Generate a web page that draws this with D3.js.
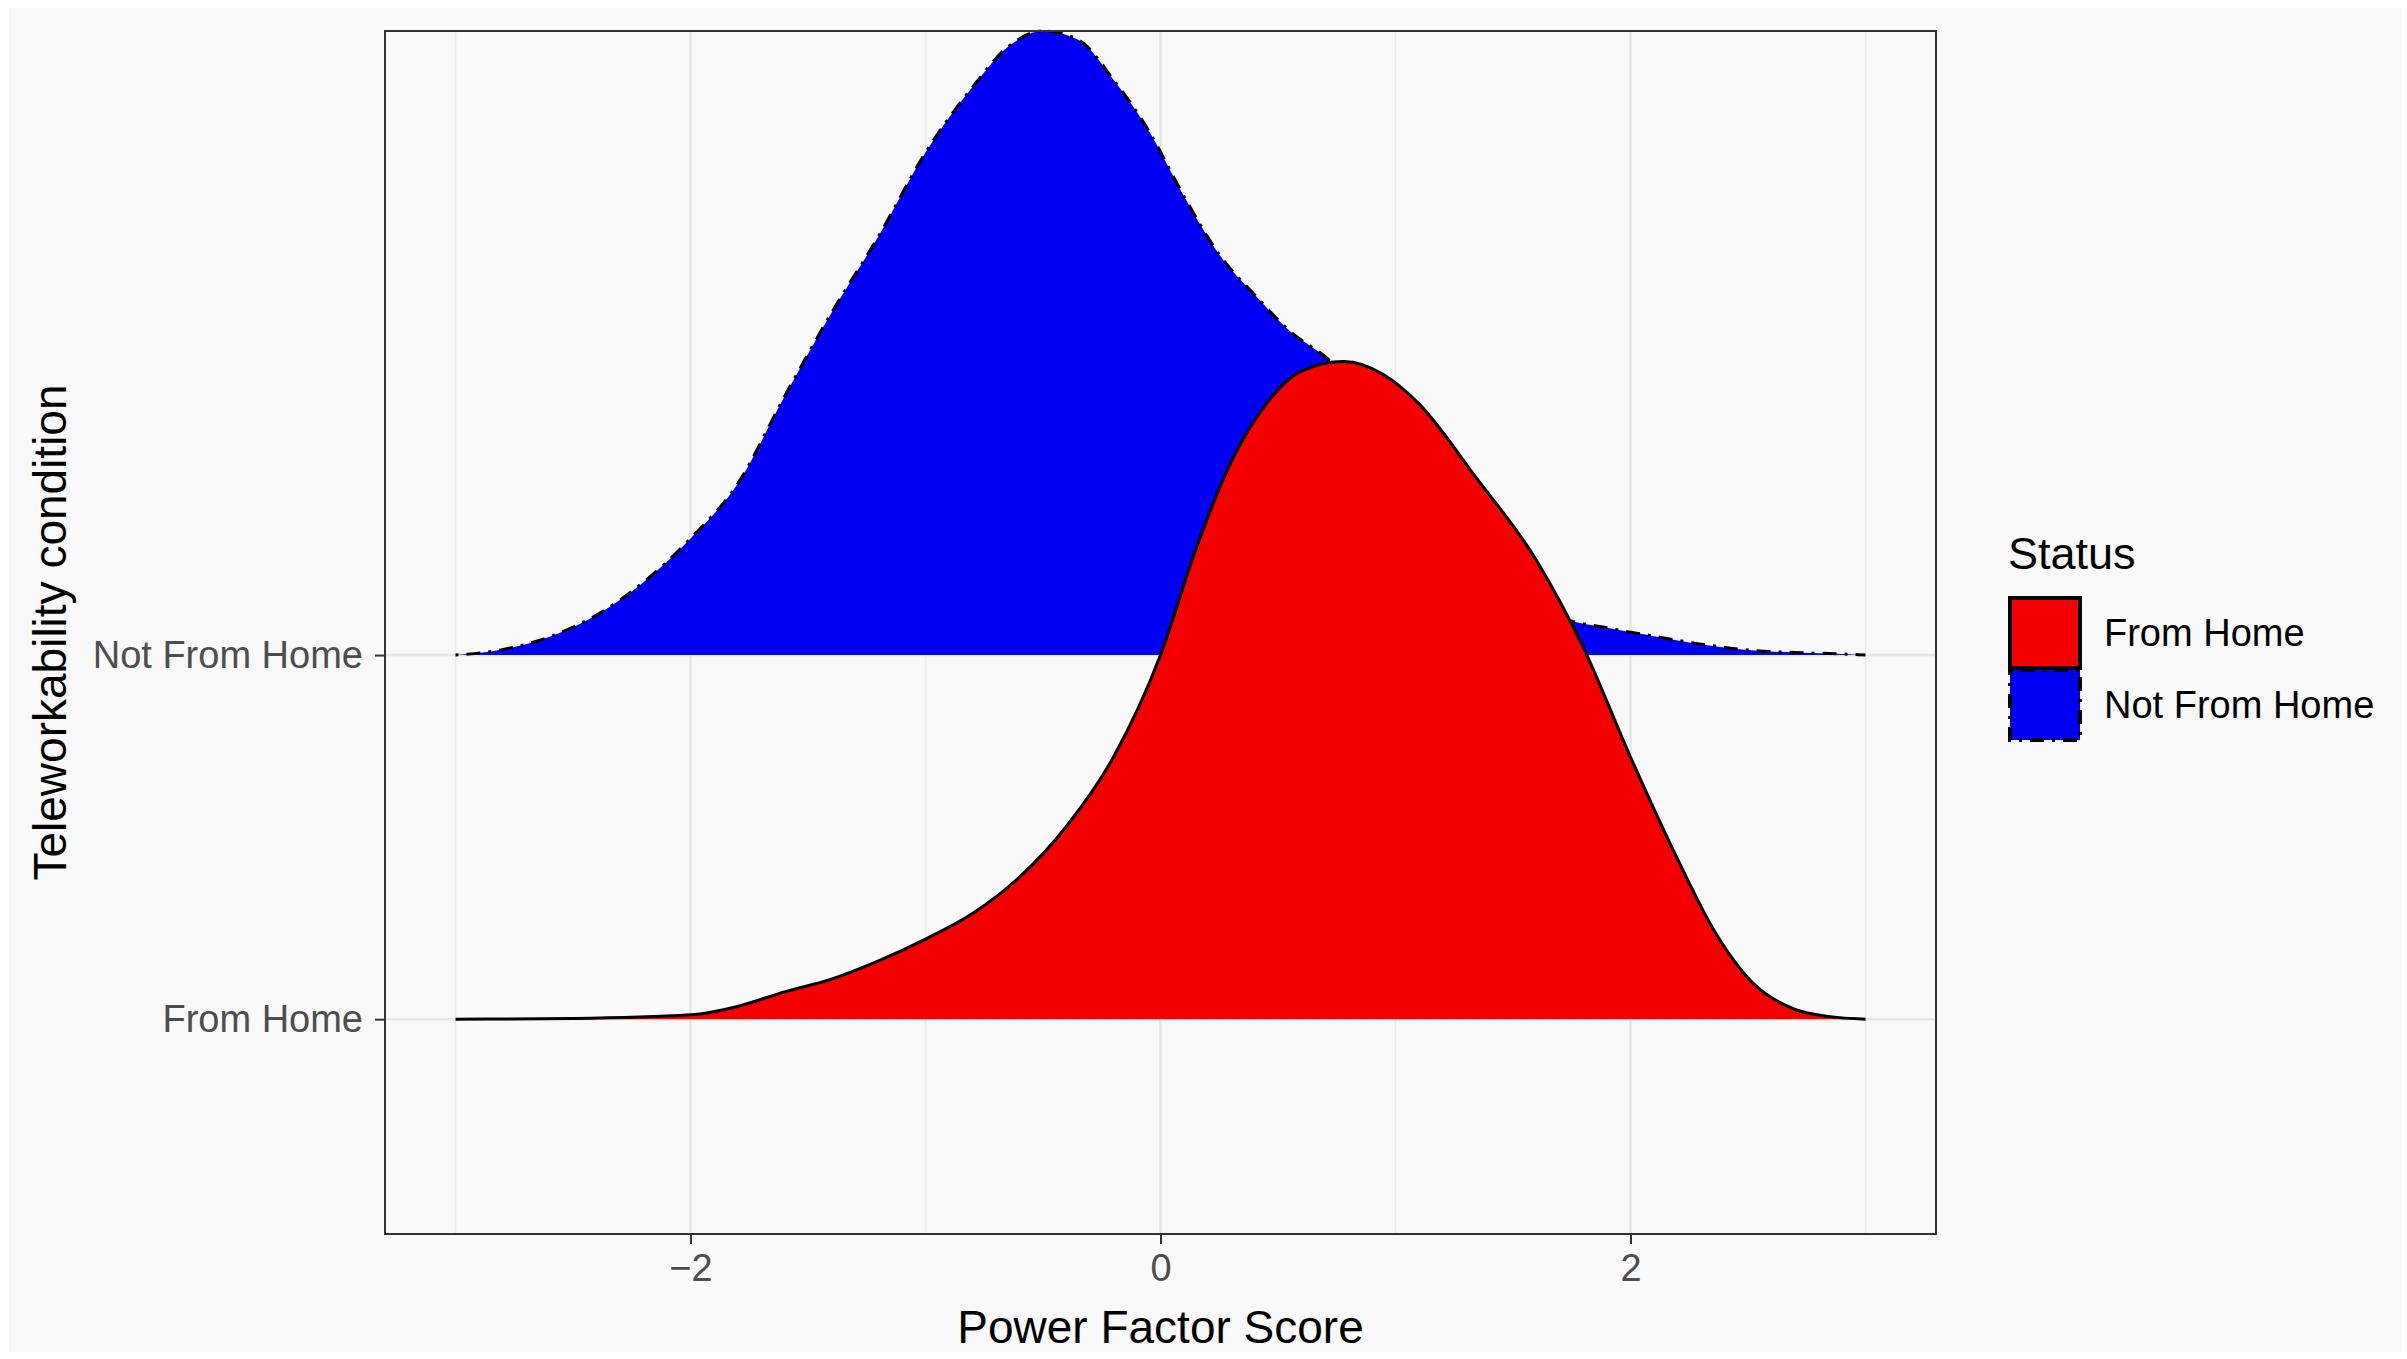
<!DOCTYPE html>
<html>
<head>
<meta charset="utf-8">
<script src="https://cdn.jsdelivr.net/npm/d3@7"></script>
<style>
  body { margin: 0; background: #ffffff; }
  svg { display: block; font-family: "Liberation Sans", Arial, sans-serif; }
</style>
</head>
<body>
<svg id="viz"></svg>
<script>
// ridge rows, bottom to top
var categories = ["From Home", "Not From Home"];
var fillColors = ["#f50000", "#0000f5"];
var lineDash = ["", "3,8,14,8"];

// density curves (height in row units)
var fromHomeX = [-3.0, -2.5, -2.0, -1.8, -1.6, -1.4, -1.2, -1.0, -0.8, -0.6, -0.4, -0.2, 0.0, 0.15, 0.3, 0.45, 0.6, 0.78, 0.95, 1.1, 1.34, 1.6, 1.8, 2.0, 2.2, 2.35, 2.52, 2.7, 2.85, 3.0];
var fromHomeDensity = [0, 0.002, 0.012, 0.035, 0.075, 0.11, 0.16, 0.22, 0.29, 0.39, 0.53, 0.72, 1.0, 1.29, 1.53, 1.69, 1.78, 1.806, 1.77, 1.69, 1.49, 1.26, 1.02, 0.72, 0.44, 0.25, 0.10, 0.027, 0.007, 0];

var notHomeX = [-3.0, -2.8, -2.6, -2.4, -2.2, -2.0, -1.8, -1.6, -1.4, -1.2, -1.0, -0.8, -0.65, -0.5, -0.35, -0.2, -0.05, 0.1, 0.25, 0.4, 0.55, 0.7, 0.9, 1.1, 1.3, 1.5, 1.7, 1.9, 2.1, 2.3, 2.5, 2.7, 2.9, 3.0];
var notHomeDensity = [0, 0.015, 0.05, 0.11, 0.2, 0.32, 0.47, 0.71, 0.94, 1.15, 1.38, 1.56, 1.67, 1.714, 1.69, 1.58, 1.44, 1.26, 1.10, 0.99, 0.89, 0.82, 0.70, 0.55, 0.37, 0.20, 0.105, 0.075, 0.052, 0.03, 0.014, 0.007, 0.003, 0];

var xTicks = [-2, 0, 2];
var xMinor = [-3, -1, 1, 3];

var width = 2407, height = 1359;
var panel = {left: 385, right: 1936, top: 31, bottom: 1234};

var svg = d3.select("#viz").attr("width", width).attr("height", height);

// plot background (screenshot grey with a thin white edge)
svg.append("rect")
    .attr("x", 9).attr("y", 8)
    .attr("width", width - 14).attr("height", height - 15)
    .attr("fill", "#f9f9f9");

var x = d3.scaleLinear().domain([-3.3, 3.3]).range([panel.left, panel.right]);
var y = d3.scaleLinear().domain([0.41, 3.714]).range([panel.bottom, panel.top]);

var grid = svg.append("g");
grid.selectAll("line.minor")
    .data(xMinor)
    .enter()
    .append("line")
    .attr("x1", function(d) { return x(d); })
    .attr("x2", function(d) { return x(d); })
    .attr("y1", panel.top).attr("y2", panel.bottom)
    .attr("stroke", "#ebebeb").attr("stroke-width", 1.5);

grid.selectAll("line.major")
    .data(xTicks)
    .enter()
    .append("line")
    .attr("x1", function(d) { return x(d); })
    .attr("x2", function(d) { return x(d); })
    .attr("y1", panel.top).attr("y2", panel.bottom)
    .attr("stroke", "#e6e6e6").attr("stroke-width", 2.5);

grid.selectAll("line.row")
    .data(categories)
    .enter()
    .append("line")
    .attr("x1", panel.left).attr("x2", panel.right)
    .attr("y1", function(d, i) { return y(i + 1); })
    .attr("y2", function(d, i) { return y(i + 1); })
    .attr("stroke", "#e6e6e6").attr("stroke-width", 2.5);

var ridges = [
    {row: 2, xs: notHomeX, hs: notHomeDensity, fill: fillColors[1], dash: lineDash[1]},
    {row: 1, xs: fromHomeX, hs: fromHomeDensity, fill: fillColors[0], dash: lineDash[0]}
];

var area = d3.area()
    .curve(d3.curveMonotoneX)
    .x(function(d) { return x(d[0]); })
    .y0(function(d) { return y(d[2]); })
    .y1(function(d) { return y(d[2] + d[1]); });

var line = d3.line()
    .curve(d3.curveMonotoneX)
    .x(function(d) { return x(d[0]); })
    .y(function(d) { return y(d[2] + d[1]); });

// top row first so the lower ridge overlaps it
ridges.forEach(function(r) {
    var pts = r.xs.map(function(v, i) { return [v, r.hs[i], r.row]; });
    svg.append("path")
        .attr("d", area(pts))
        .attr("fill", r.fill);
    svg.append("path")
        .attr("d", line(pts))
        .attr("fill", "none")
        .attr("stroke", "#000")
        .attr("stroke-width", 3)
        .attr("stroke-dasharray", r.dash);
});

// panel border
svg.append("rect")
    .attr("x", panel.left).attr("y", panel.top)
    .attr("width", panel.right - panel.left)
    .attr("height", panel.bottom - panel.top)
    .attr("fill", "none")
    .attr("stroke", "#333333")
    .attr("stroke-width", 2);

// x axis
var xAxis = svg.append("g")
    .attr("transform", "translate(0," + panel.bottom + ")")
    .call(d3.axisBottom(x).tickValues(xTicks).tickSize(10).tickPadding(10)
        .tickFormat(function(d) { return d < 0 ? "\u2212" + Math.abs(d) : d; }));
xAxis.select(".domain").remove();
xAxis.selectAll("line").attr("stroke", "#333333").attr("stroke-width", 2);
xAxis.selectAll("text")
    .attr("fill", "#4d4d4d")
    .style("font-size", "38px")
    .style("font-family", "Liberation Sans, Arial, sans-serif");

// y axis
var yAxis = svg.append("g")
    .attr("transform", "translate(" + panel.left + ",0)")
    .call(d3.axisLeft(y).tickValues([1, 2]).tickSize(10).tickPadding(12)
        .tickFormat(function(d) { return categories[d - 1]; }));
yAxis.select(".domain").remove();
yAxis.selectAll("line").attr("stroke", "#333333").attr("stroke-width", 2);
yAxis.selectAll("text")
    .attr("fill", "#4d4d4d")
    .style("font-size", "38px")
    .style("font-family", "Liberation Sans, Arial, sans-serif");

// axis titles
svg.append("text")
    .attr("x", (panel.left + panel.right) / 2)
    .attr("y", 1343)
    .attr("text-anchor", "middle")
    .style("font-size", "46px")
    .text("Power Factor Score");

svg.append("text")
    .attr("transform", "translate(66," + ((panel.top + panel.bottom) / 2) + ") rotate(-90)")
    .attr("text-anchor", "middle")
    .style("font-size", "46px")
    .text("Teleworkability condition");

// legend
var legend = svg.append("g").attr("transform", "translate(2010,0)");
legend.append("text")
    .attr("x", -2).attr("y", 569)
    .style("font-size", "45px")
    .text("Status");

var keys = legend.selectAll("g.key")
    .data(categories)
    .enter()
    .append("g")
    .attr("transform", function(d, i) { return "translate(0," + (598 + i * 72) + ")"; });

keys.append("rect")
    .attr("x", 0).attr("y", 0)
    .attr("width", 70).attr("height", 70)
    .attr("fill", function(d, i) { return fillColors[i]; })
    .attr("stroke", "#000")
    .attr("stroke-width", 4)
    .attr("stroke-dasharray", function(d, i) { return lineDash[i]; });

keys.append("text")
    .attr("x", 94).attr("y", 48)
    .style("font-size", "38px")
    .text(function(d) { return d; });
</script>
</body>
</html>
